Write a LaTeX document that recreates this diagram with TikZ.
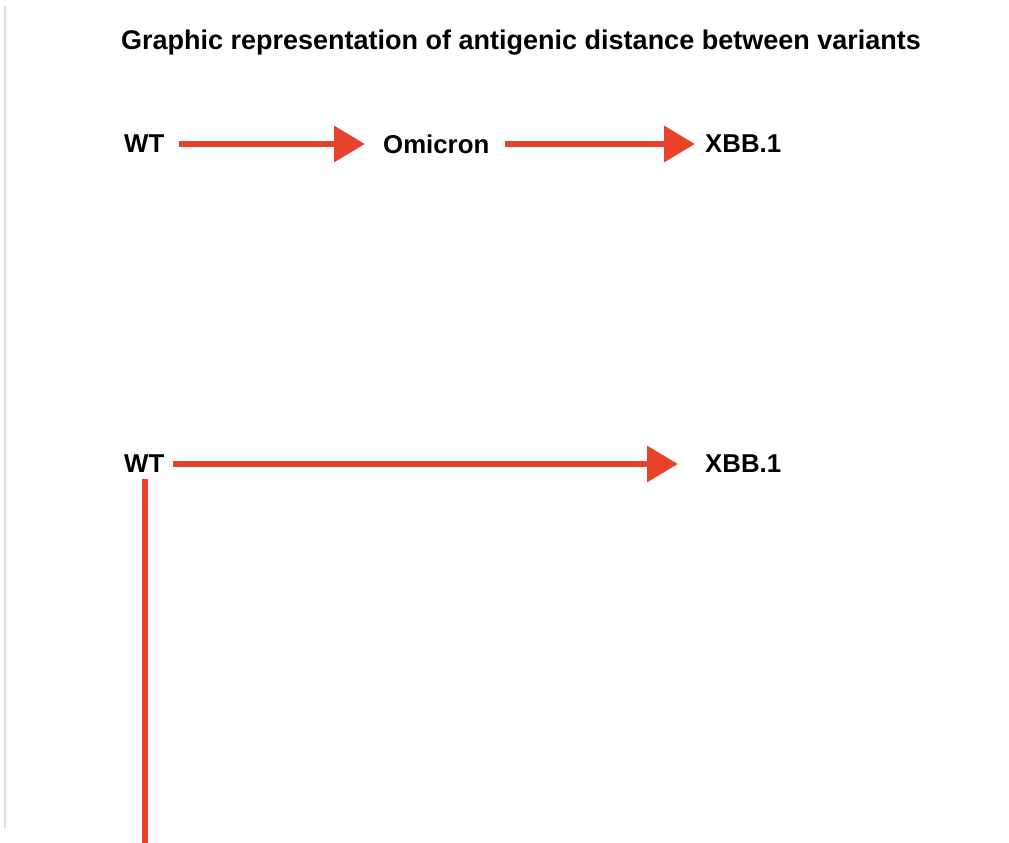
\documentclass[tikz,border=0pt]{standalone}
\usepackage{fontspec}
\setmainfont{Liberation Sans}
\usetikzlibrary{arrows.meta}
\definecolor{arrowred}{RGB}{233,66,42}
\definecolor{edgegray}{RGB}{214,222,230}
\tikzset{
  lbl/.style={font=\fontsize{25.8}{29}\selectfont\bfseries, inner sep=0pt, anchor=west},
  redarrow/.style={draw=arrowred, line width=6.5pt, -{Triangle[length=31pt,width=35pt]}},
  redline/.style={draw=arrowred, line width=6pt},
}
\begin{document}
\begin{tikzpicture}[x=1pt,y=-1pt]
\useasboundingbox (0,0) rectangle (1009,843);
\fill[white] (0,0) rectangle (1009,843);
% faint frame edges
\draw[edgegray, line width=2pt] (5,6) -- (5,828);
\draw[gray!4, line width=2pt] (20,8) -- (995,8);
% title
\node[font=\fontsize{27}{30}\selectfont\bfseries, inner sep=0pt] (title) at (521,43) {Graphic representation of antigenic distance between variants};
% row 1
\node[lbl] (wt1) at (124,144) {WT};
\node[lbl] (om) at (383,144) {Omicron};
\node[lbl] (xbb1) at (705,144) {XBB.1};
\draw[redarrow, shorten <=14pt, shorten >=18pt] (wt1.east) -- (om.west);
\draw[redarrow, shorten <=16pt, shorten >=10pt] (om.east) -- (xbb1.west);
% row 2
\node[lbl] (wt2) at (124,464) {WT};
\node[lbl] (xbb2) at (705,464) {XBB.1};
\draw[redarrow, shorten <=8pt, shorten >=27pt] (wt2.east) -- (xbb2.west);
\coordinate (vend) at (144.5,843);
\draw[redline, shorten <=6pt] (wt2.south -| vend) -- (vend);
\end{tikzpicture}
\end{document}
